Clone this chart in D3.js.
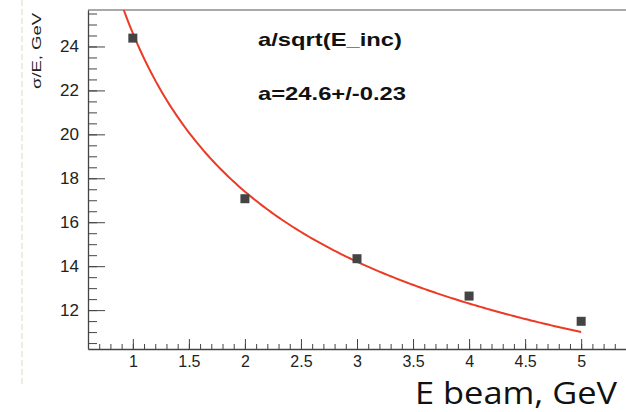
<!DOCTYPE html>
<html>
<head>
<meta charset="utf-8">
<script src="https://cdn.jsdelivr.net/npm/d3@7"></script>
<style>
  body { margin: 0; background: #fff; }
  svg { display: block; }
</style>
</head>
<body>
<script>
// measured points
var energies = [1, 2, 3, 4, 5];
var sigmas = [24.38, 17.07, 14.34, 12.64, 11.49];
var fitA = 24.6;
var xMajor = [1, 1.5, 2, 2.5, 3, 3.5, 4, 4.5, 5];
var yMajor = [12, 14, 16, 18, 20, 22, 24];

var w = 626;
var h = 412;
var plotLeft = 88, plotTop = 10, plotBottom = 349, plotRight = 626;

var svg = d3.select("body")
            .append("svg")
            .attr("width", w)
            .attr("height", h)
            .style("font-family", "'Liberation Sans', Arial, sans-serif");

var xScale = d3.scaleLinear().domain([0.6, 5.4]).range([plotLeft, plotRight]);
var yScale = d3.scaleLinear().domain([10.23, 25.66]).range([plotBottom, plotTop]);

// faint scan artefact line on the left
svg.append("line")
   .attr("x1", 22).attr("x2", 22)
   .attr("y1", 0).attr("y2", 385)
   .attr("stroke", "#e6dfd0")
   .attr("stroke-width", 1.2)
   .attr("stroke-dasharray", "6,3");

// top frame
svg.append("line")
   .attr("x1", plotLeft).attr("x2", plotRight)
   .attr("y1", plotTop).attr("y2", plotTop)
   .attr("stroke", "#555").attr("stroke-width", 1.2);

// minor ticks
var xMinor = d3.range(7, 55).map(function(d) { return d / 10; });
var yMinor = d3.range(21, 52).map(function(d) { return d / 2; });

svg.append("g")
   .attr("transform", "translate(0," + plotBottom + ")")
   .call(d3.axisBottom(xScale).tickValues(xMinor).tickSize(-5).tickFormat(""))
   .call(function(g) { g.select(".domain").remove(); })
   .selectAll("line").attr("stroke", "#444");

svg.append("g")
   .attr("transform", "translate(" + plotLeft + ",0)")
   .call(d3.axisLeft(yScale).tickValues(yMinor).tickSize(-9).tickFormat(""))
   .call(function(g) { g.select(".domain").remove(); })
   .selectAll("line").attr("stroke", "#444");

// major axes
var xAxis = svg.append("g")
   .attr("transform", "translate(0," + plotBottom + ")")
   .call(d3.axisBottom(xScale).tickValues(xMajor).tickSizeInner(-10).tickSizeOuter(0).tickPadding(7)
         .tickFormat(d3.format("")));
xAxis.select(".domain").attr("stroke", "#444").attr("stroke-width", 1.3);
xAxis.selectAll("line").attr("stroke", "#444");
xAxis.selectAll("text").attr("font-size", "16px").attr("fill", "#222")
     .attr("font-family", "'Liberation Sans', Arial, sans-serif");

var yAxis = svg.append("g")
   .attr("transform", "translate(" + plotLeft + ",0)")
   .call(d3.axisLeft(yScale).tickValues(yMajor).tickSizeInner(-17).tickSizeOuter(0).tickPadding(9));
yAxis.select(".domain").attr("stroke", "#444").attr("stroke-width", 1.3);
yAxis.selectAll("line").attr("stroke", "#444");
yAxis.selectAll("text").attr("font-size", "17px").attr("fill", "#222")
     .attr("font-family", "'Liberation Sans', Arial, sans-serif");

// fit curve a/sqrt(E)
var eStart = Math.pow(fitA / yScale.domain()[1], 2);
var fitPts = d3.range(0, 201).map(function(i) {
  var e = eStart + (5 - eStart) * i / 200;
  return [e, fitA / Math.sqrt(e)];
});
svg.append("path")
   .datum(fitPts)
   .attr("fill", "none")
   .attr("stroke", "#ec3b24")
   .attr("stroke-width", 2)
   .attr("d", d3.line()
     .x(function(d) { return xScale(d[0]); })
     .y(function(d) { return yScale(d[1]); }));

// markers
svg.selectAll("rect.pt")
   .data(energies)
   .enter()
   .append("rect")
   .attr("class", "pt")
   .attr("x", function(d) { return xScale(d) - 4.5; })
   .attr("y", function(d, i) { return yScale(sigmas[i]) - 4.5; })
   .attr("width", 9)
   .attr("height", 9)
   .attr("fill", "#444");

// fit text
svg.append("text")
   .attr("x", 258).attr("y", 46)
   .attr("font-size", "19px").attr("font-weight", "bold").attr("fill", "#111")
   .attr("textLength", 144).attr("lengthAdjust", "spacingAndGlyphs")
   .text("a/sqrt(E_inc)");
svg.append("text")
   .attr("x", 258).attr("y", 100)
   .attr("font-size", "19px").attr("font-weight", "bold").attr("fill", "#111")
   .attr("textLength", 148).attr("lengthAdjust", "spacingAndGlyphs")
   .text("a=24.6+/-0.23");

// axis titles
svg.append("text")
   .attr("transform", "translate(41,13) rotate(-90)")
   .attr("text-anchor", "end")
   .attr("font-size", "13.5px").attr("fill", "#222")
   .attr("textLength", 76).attr("lengthAdjust", "spacingAndGlyphs")
   .text("σ/E, GeV");

svg.append("text")
   .attr("x", 617).attr("y", 404)
   .attr("text-anchor", "end")
   .attr("font-family", "'Open Sans', sans-serif")
   .attr("font-size", "31.5px").attr("fill", "#111")
   .attr("textLength", 202).attr("lengthAdjust", "spacingAndGlyphs")
   .text("E beam, GeV");
</script>
</body>
</html>
